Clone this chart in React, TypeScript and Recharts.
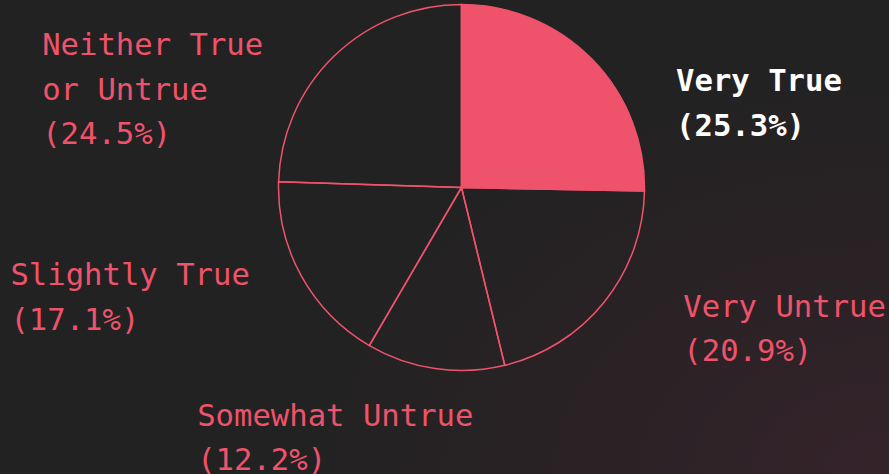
import React from "react";
import { PieChart, Pie, Cell } from "recharts";

const categories = ["Very True", "Very Untrue", "Somewhat Untrue", "Slightly True", "Neither True or Untrue"];
const shares = [25.3, 20.9, 12.2, 17.1, 24.5];
const highlighted = "Very True";

const pink = "#ef536b";
const bg = "#222222";
const RADIAN = Math.PI / 180;

// label nudges from the slice's outer mid point (first-line baseline)
const labelNudge = [
  { dx: 84, dy: 32 },
  { dx: 79, dy: 15 },
  { dx: -238, dy: 57 },
  { dx: -291, dy: 9 },
  { dx: -292, dy: -1 },
];

const chartData = categories.map((name, i) => ({ name, value: shares[i] }));

// split long names into two lines at the word gap nearest the middle
const wrap = (text: string, max = 15) => {
  if (text.length <= max) return [text];
  const mid = text.length / 2;
  let best = -1;
  for (let i = 0; i < text.length; i++) {
    if (text[i] === " " && (best < 0 || Math.abs(i - mid) < Math.abs(best - mid))) best = i;
  }
  return [text.slice(0, best), text.slice(best + 1)];
};

const renderLabel = (props: any) => {
  const { cx, cy, midAngle, outerRadius, index, name, value } = props;
  const px = cx + outerRadius * Math.cos(-midAngle * RADIAN);
  const py = cy + outerRadius * Math.sin(-midAngle * RADIAN);
  const n = labelNudge[index];
  const isHi = name === highlighted;
  const lines = [...wrap(name), `(${value}%)`];
  return (
    <text
      x={px + n.dx}
      y={py + n.dy}
      fill={isHi ? "#ffffff" : pink}
      fontWeight={isHi ? 700 : 400}
      fontSize={30.6}
      fontFamily="'DejaVu Sans Mono', monospace"
      textAnchor="start"
    >
      {lines.map((l, i) => (
        <tspan key={i} x={px + n.dx} dy={i === 0 ? 0 : 44.5}>
          {l}
        </tspan>
      ))}
    </text>
  );
};

export default function App() {
  return (
    <div
      style={{
        width: 889,
        height: 474,
        background: `radial-gradient(ellipse 70% 90% at 100% 100%, #35232a 0%, #2b2226 45%, ${bg} 100%)`,
      }}
    >
      <style>{`body{margin:0}`}</style>
      <PieChart width={889} height={474} margin={{ top: 0, right: 0, bottom: 0, left: 0 }}>
        <Pie
          data={chartData}
          dataKey="value"
          nameKey="name"
          cx={461.5}
          cy={187.5}
          outerRadius={183}
          startAngle={90}
          endAngle={-270}
          stroke={pink}
          strokeWidth={1.5}
          label={renderLabel}
          labelLine={false}
          isAnimationActive={false}
        >
          {chartData.map((d) => (
            <Cell key={d.name} fill={d.name === highlighted ? pink : "transparent"} />
          ))}
        </Pie>
      </PieChart>
    </div>
  );
}
